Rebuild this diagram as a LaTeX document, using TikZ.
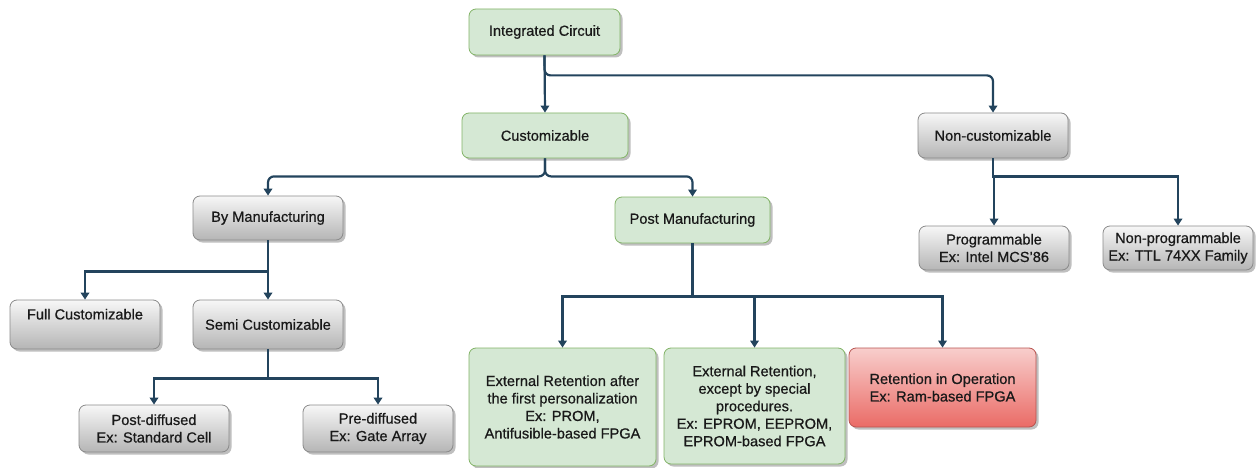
\documentclass[tikz,border=0pt]{standalone}
\usepackage{fontspec}
\setmainfont{Liberation Sans}[FakeBold=0.6]
\usetikzlibrary{arrows.meta,shadows}
\definecolor{greenfill}{HTML}{D5E8D4}
\definecolor{greenline}{HTML}{82B366}
\definecolor{greytop}{HTML}{F7F7F7}
\definecolor{greybot}{HTML}{B5B5B5}
\definecolor{greyline}{HTML}{8A8A8A}
\definecolor{redtop}{HTML}{F8CECC}
\definecolor{redbot}{HTML}{EA6B66}
\definecolor{redline}{HTML}{B85450}
\definecolor{wire}{HTML}{23445D}
\tikzset{
  box/.style={rectangle, rounded corners=7pt, align=center, inner sep=2pt,
    font=\fontsize{14.6}{17.5}\selectfont, text=black!90,
    drop shadow={shadow xshift=2.5pt, shadow yshift=-2.5pt, opacity=0.25, fill=black}},
  greenbox/.style={box, fill=greenfill, draw=greenline, line width=0.8pt},
  greybox/.style={box, top color=greytop, bottom color=greybot, draw=greyline, line width=0.8pt},
  redbox/.style={box, top color=redtop, bottom color=redbot, draw=redline, line width=0.8pt},
  conn/.style={draw=wire, line width=2.2pt, -{Triangle[width=8.5pt,length=7pt]}},
}
\begin{document}
\begin{tikzpicture}[x=1pt,y=-1pt]
\useasboundingbox (0,0) rectangle (1257,468);

% top level
\node[greenbox, minimum width=151pt, minimum height=46pt] (ic) at (544.5,32) {Integrated Circuit};
\node[greenbox, minimum width=166pt, minimum height=45pt] (cust) at (545,135.5) {Customizable};
\node[greybox, minimum width=150pt, minimum height=45pt] (nc) at (993,135.5) {Non-customizable};

% customizable branch
\node[greybox, minimum width=150pt, minimum height=44pt] (byman) at (268,218) {By Manufacturing};
\node[greenbox, minimum width=155pt, minimum height=46pt] (postman) at (692.5,220) {Post Manufacturing};

\node[greybox, minimum width=150pt, minimum height=49pt] (full) at (85,324.5) {Full Customizable\\[-2pt]\strut};
\node[greybox, minimum width=150pt, minimum height=49pt] (semi) at (268,324.5) {\raisebox{-2pt}{Semi Customizable}};

\node[greybox, minimum width=150pt, minimum height=47pt] (postdiff) at (154,428.5) {Post-diffused\\Ex: Standard Cell};
\node[greybox, minimum width=150pt, minimum height=47pt] (prediff) at (378,428.5) {Pre-diffused\\Ex: Gate Array};

\node[greenbox, minimum width=187pt, minimum height=118pt] (ext1) at (562.5,407) {External Retention after\\the first personalization\\Ex: PROM,\\Antifusible-based FPGA};
\node[greenbox, minimum width=181pt, minimum height=116pt] (ext2) at (754.5,406) {External Retention,\\except by special\\procedures.\\Ex: EPROM, EEPROM,\\EPROM-based FPGA};
\node[redbox, minimum width=187pt, minimum height=79pt] (retop) at (942.5,387.5) {Retention in Operation\\Ex: Ram-based FPGA};

% non-customizable branch
\node[greybox, minimum width=150pt, minimum height=44pt] (prog) at (994,248) {Programmable\\Ex: Intel MCS'86};
\node[greybox, minimum width=150pt, minimum height=44pt] (nonprog) at (1178,248) {Non-programmable\\Ex: TTL 74XX Family};

% connectors
\draw[conn] (ic.south) -- (cust.north);
\draw[conn, rounded corners=6pt] (ic.south) -- ++(0,20) -| (nc.north);

\draw[conn, rounded corners=6pt] (cust.south) -- ++(0,18) -| (byman.north);
\draw[conn, rounded corners=6pt] (cust.south) -- ++(0,18) -| (postman.north);

\draw[conn] (byman.south) -- ++(0,31) -| (full.north);
\draw[conn] (byman.south) -- (semi.north);

\draw[conn] (semi.south) -- ++(0,29) -| (postdiff.north);
\draw[conn] (semi.south) -- ++(0,29) -| (prediff.north);

\draw[conn] (postman.south) -- ++(0,53) -| (ext1.north);
\draw[conn] (postman.south) -- ++(0,53) -| (ext2.north);
\draw[conn] (postman.south) -- ++(0,53) -| (retop.north);

\draw[conn] (nc.south) -- ++(0,18) -| (prog.north);
\draw[conn] (nc.south) -- ++(0,18) -| (nonprog.north);
\end{tikzpicture}
\end{document}
